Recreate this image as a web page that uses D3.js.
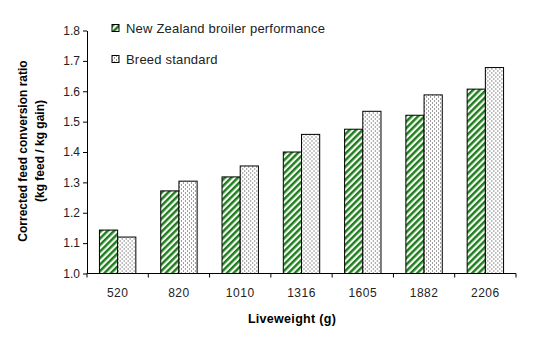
<!DOCTYPE html>
<html>
<head>
<meta charset="utf-8">
<script src="https://cdn.jsdelivr.net/npm/d3@7"></script>
<style>
  body { margin: 0; background: #fff; }
  text { font-family: "Liberation Sans", Arial, sans-serif; }
</style>
</head>
<body>
<div id="chart"></div>
<script>
// Data
const categories = ["520", "820", "1010", "1316", "1605", "1882", "2206"];
const nzValues = [1.143, 1.272, 1.318, 1.400, 1.475, 1.521, 1.607];
const standardValues = [1.120, 1.304, 1.354, 1.458, 1.534, 1.588, 1.678];
const seriesNames = ["New Zealand broiler performance", "Breed standard"];
const yTicks = [1.0, 1.1, 1.2, 1.3, 1.4, 1.5, 1.6, 1.7, 1.8];

const W = 535, H = 338;
const margin = { top: 30.5, right: 19, bottom: 64.5, left: 87 };
const width = W - margin.left - margin.right;
const height = H - margin.top - margin.bottom;

const svg = d3.select("#chart").append("svg")
    .attr("width", W)
    .attr("height", H);

// Patterns
const defs = svg.append("defs");
const hatch = defs.append("pattern")
    .attr("id", "hatch")
    .attr("patternUnits", "userSpaceOnUse")
    .attr("width", 4.6).attr("height", 4.6)
    .attr("patternTransform", "rotate(45)");
hatch.append("rect").attr("width", 4.6).attr("height", 4.6).attr("fill", "#f4faf0");
hatch.append("rect").attr("width", 2.4).attr("height", 4.6).attr("fill", "#1e7b1e");

const dots = defs.append("pattern")
    .attr("id", "dots")
    .attr("patternUnits", "userSpaceOnUse")
    .attr("width", 4).attr("height", 4);
dots.append("rect").attr("width", 4).attr("height", 4).attr("fill", "#fff");
dots.append("rect").attr("x", 0).attr("y", 0).attr("width", 1).attr("height", 1).attr("fill", "#333");
dots.append("rect").attr("x", 2).attr("y", 2).attr("width", 1).attr("height", 1).attr("fill", "#333");

const g = svg.append("g").attr("transform", `translate(${margin.left},${margin.top})`);

const x0 = d3.scaleBand().domain(categories).range([0, width]).padding(0);
const barW = 18.2;
const x1 = d3.scaleBand().domain(["nz", "std"]).range([-barW, barW]);

const y = d3.scaleLinear().domain([1.0, 1.8]).range([height, 0]);

const rows = categories.map((c, i) => ({ cat: c, nz: nzValues[i], std: standardValues[i] }));
const fills = { nz: "url(#hatch)", std: "url(#dots)" };

g.selectAll(".grp")
  .data(rows)
  .enter().append("g")
    .attr("transform", d => `translate(${x0(d.cat) + x0.bandwidth() / 2},0)`)
  .selectAll("rect")
  .data(d => ["nz", "std"].map(k => ({ key: k, value: d[k] })))
  .enter().append("rect")
    .attr("x", d => x1(d.key))
    .attr("y", d => y(d.value))
    .attr("width", x1.bandwidth())
    .attr("height", d => height - y(d.value))
    .attr("fill", d => fills[d.key])
    .attr("stroke", "#000")
    .attr("stroke-width", 1);

// Y axis
const yAxis = g.append("g")
    .call(d3.axisLeft(y).tickValues(yTicks).tickFormat(d3.format(".1f")).tickSize(4).tickSizeOuter(0));
yAxis.select(".domain").attr("stroke", "#000");
yAxis.selectAll("text").attr("font-size", 12).attr("fill", "#222").attr("x", -7);

// X axis with ticks between categories
const xAxis = g.append("g").attr("transform", `translate(0,${height})`);
xAxis.append("line").attr("x1", 0).attr("x2", width).attr("stroke", "#000");
xAxis.selectAll(".tk")
  .data(categories.concat(["end"]))
  .enter().append("line")
    .attr("x1", (d, i) => i * x0.step())
    .attr("x2", (d, i) => i * x0.step())
    .attr("y1", 0).attr("y2", 4)
    .attr("stroke", "#000");
xAxis.selectAll(".lbl")
  .data(categories)
  .enter().append("text")
    .attr("x", d => x0(d) + x0.bandwidth() / 2)
    .attr("y", 23.5)
    .attr("text-anchor", "middle")
    .attr("font-size", 12)
    .attr("letter-spacing", 0.5)
    .attr("fill", "#222")
    .text(d => d);

// Axis titles
svg.append("text")
    .attr("x", 292)
    .attr("y", 323)
    .attr("text-anchor", "middle")
    .attr("font-size", 12.5)
    .attr("font-weight", "bold")
    .attr("letter-spacing", 0.3)
    .text("Liveweight (g)");

const yt = svg.append("text")
    .attr("transform", `translate(0,151) rotate(-90)`)
    .attr("text-anchor", "middle")
    .attr("font-size", 12)
    .attr("font-weight", "bold");
yt.append("tspan").attr("x", 0).attr("y", 27).text("Corrected feed conversion ratio");
yt.append("tspan").attr("x", 0).attr("y", 44).text("(kg feed / kg gain)");

// Legend
const legend = svg.append("g")
  .selectAll("g")
  .data(seriesNames)
  .enter().append("g")
    .attr("transform", (d, i) => `translate(112,${24.5 + i * 31})`);
legend.append("rect")
    .attr("width", 7).attr("height", 7)
    .attr("fill", (d, i) => i === 0 ? "url(#hatch)" : "url(#dots)")
    .attr("stroke", "#000");
legend.append("text")
    .attr("x", 14)
    .attr("y", 8)
    .attr("font-size", 13)
    .attr("letter-spacing", 0.2)
    .attr("fill", "#222")
    .text(d => d);
</script>
</body>
</html>
